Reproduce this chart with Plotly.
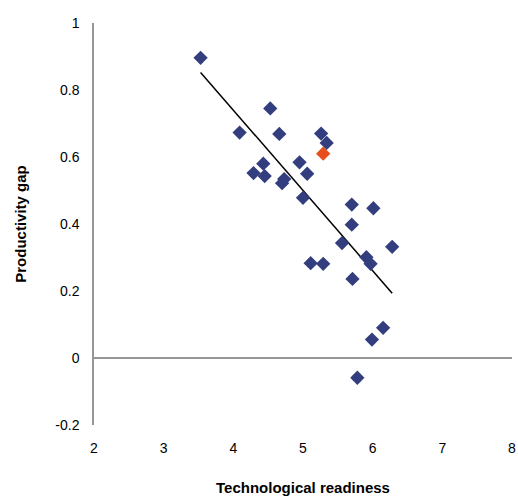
import numpy as np
import plotly.graph_objects as go

# Technological readiness (x) and productivity gap (y) for countries
tech_readiness = [3.53, 4.53, 4.09, 4.66, 5.26, 5.34, 4.43, 4.95, 4.29, 4.45,
                  5.06, 4.73, 4.70, 5.00, 5.70, 6.01, 5.70, 5.56, 6.28, 5.91,
                  5.97, 5.11, 5.29, 5.71, 6.15, 5.99, 5.78]
productivity_gap = [0.896, 0.745, 0.673, 0.669, 0.670, 0.642, 0.580, 0.584, 0.552, 0.543,
                    0.550, 0.534, 0.522, 0.478, 0.458, 0.447, 0.398, 0.343, 0.332, 0.301,
                    0.281, 0.283, 0.281, 0.236, 0.090, 0.055, -0.059]

# highlighted country
highlight_x = [5.29]
highlight_y = [0.610]

x_ticks = [2, 3, 4, 5, 6, 7, 8]
y_ticks = [-0.2, 0, 0.2, 0.4, 0.6, 0.8, 1]
y_tick_labels = ["-0.2", "0", "0.2", "0.4", "0.6", "0.8", "1"]

all_x = np.array(tech_readiness + highlight_x)
all_y = np.array(productivity_gap + highlight_y)
slope, intercept = np.polyfit(all_x, all_y, 1)
line_x = np.array([all_x.min(), all_x.max()])
line_y = slope * line_x + intercept

fig = go.Figure()
fig.add_trace(go.Scatter(x=line_x, y=line_y, mode="lines",
                         line=dict(color="black", width=1.5), hoverinfo="skip"))
fig.add_trace(go.Scatter(x=tech_readiness, y=productivity_gap, mode="markers",
                         marker=dict(symbol="diamond", size=11, color="#333E7E",
                                     line=dict(width=0))))
fig.add_trace(go.Scatter(x=highlight_x, y=highlight_y, mode="markers",
                         marker=dict(symbol="diamond", size=11, color="#E84E1B",
                                     line=dict(width=0))))

fig.update_layout(
    width=518, height=496,
    margin=dict(l=94, r=6, t=23, b=71),
    paper_bgcolor="white", plot_bgcolor="white",
    showlegend=False,
    font=dict(family="Liberation Sans, Arial, sans-serif", size=14, color="black"),
    xaxis=dict(range=[2, 8], tickvals=x_ticks, showgrid=False, zeroline=False,
               showline=False, ticks="outside", ticklen=10, tickcolor="rgba(0,0,0,0)",
               automargin=False,
               title=dict(text="<b>Technological readiness</b>", font=dict(size=15),
                          standoff=29)),
    yaxis=dict(range=[-0.2, 1], tickvals=y_ticks, ticktext=y_tick_labels,
               showgrid=False, zeroline=True, zerolinecolor="#969696", zerolinewidth=1.5,
               showline=True, linecolor="#969696", linewidth=1.5,
               ticks="outside", ticklen=10, tickcolor="rgba(0,0,0,0)",
               automargin=False,
               title=dict(text="<b>Productivity gap</b>", font=dict(size=15), standoff=25)),
)

fig.write_html("out.html", config={"displayModeBar": False},
               post_script="document.body.style.margin='0';")
